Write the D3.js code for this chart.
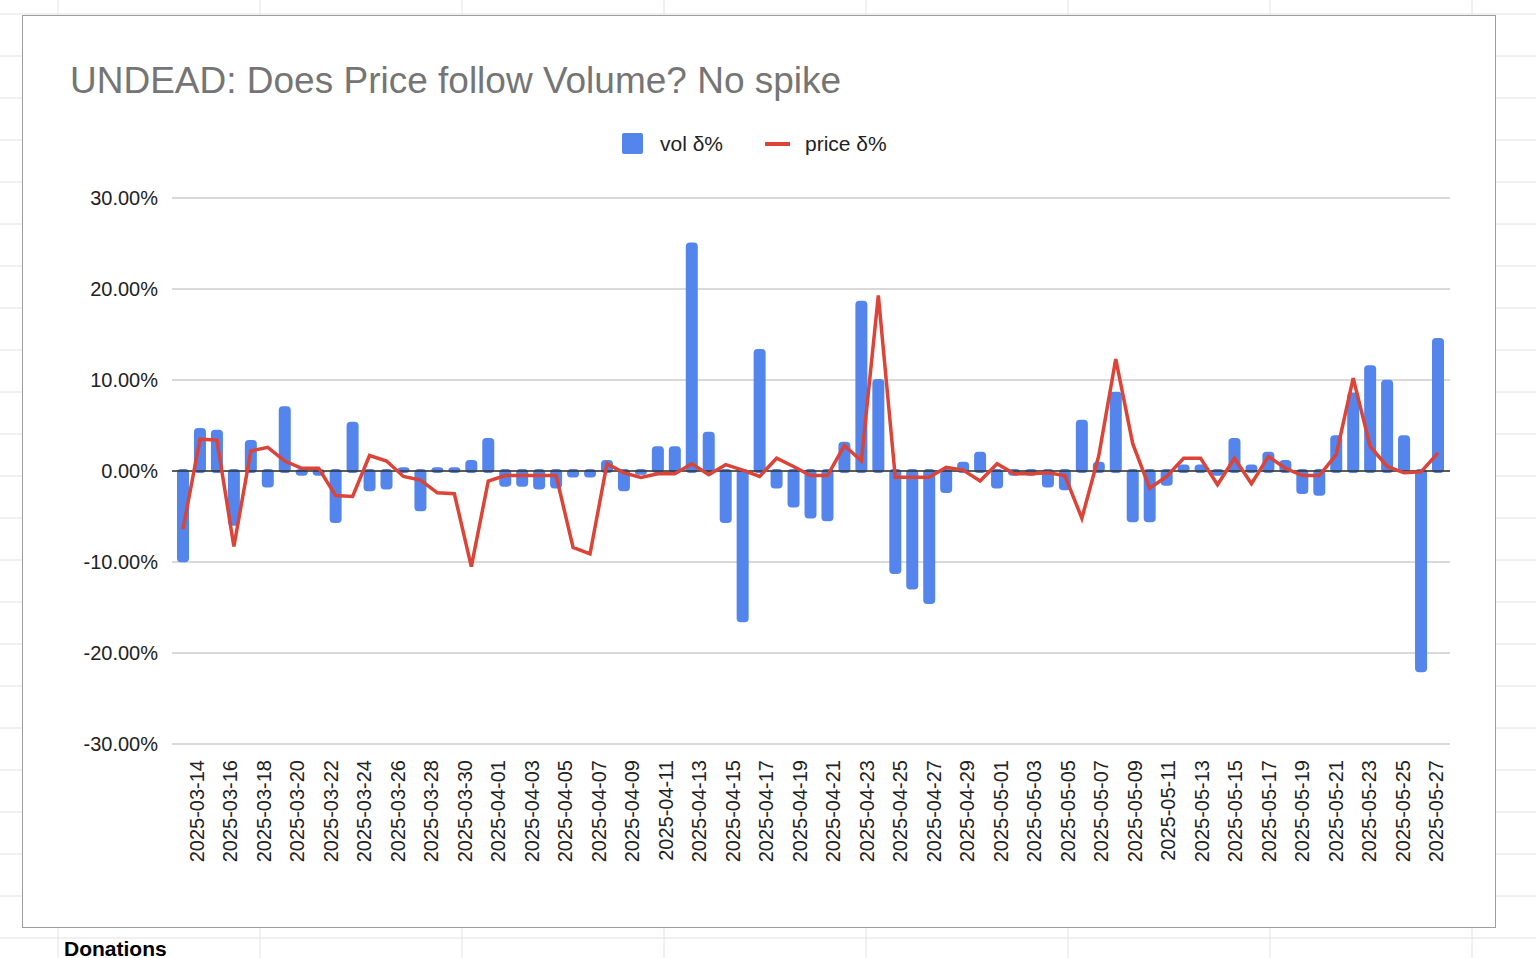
<!DOCTYPE html>
<html><head><meta charset="utf-8">
<script src="https://cdn.jsdelivr.net/npm/d3@7"></script>
<style>body{margin:0;background:#fff;font-family:"Liberation Sans",Arial,sans-serif}</style>
</head><body>
<script>
const volPct = [-9.8,4.5,4.3,-5.8,3.2,-1.6,6.9,-0.3,-0.3,-5.5,5.2,-2.0,-1.8,0.2,-4.2,0.2,0.2,1.0,3.4,-1.5,-1.5,-1.8,-1.7,-0.5,-0.5,1.0,
  -2.0,-0.2,2.5,2.5,24.9,4.1,-5.5,-16.4,13.2,-1.7,-3.8,-5.0,-5.3,3.0,18.5,9.9,-11.1,-12.8,-14.4,-2.2,0.8,1.9,-1.7,-0.3,-0.3,
  -1.6,-1.9,5.4,0.8,8.5,-5.4,-5.4,-1.4,0.5,0.5,-0.3,3.4,0.5,1.9,1.0,-2.3,-2.5,3.7,8.4,11.4,9.8,3.7,-21.9,14.4];
const pricePct = [-6.4,3.5,3.4,-8.3,2.2,2.6,1.1,0.3,0.3,-2.7,-2.8,1.7,1.1,-0.6,-1.0,-2.4,-2.5,-10.5,-1.1,-0.5,-0.5,-0.5,-0.5,-8.4,-9.1,0.8,
  -0.2,-0.7,-0.3,-0.3,0.8,-0.4,0.7,0.1,-0.6,1.4,0.5,-0.5,-0.5,2.8,1.1,19.3,-0.7,-0.7,-0.7,0.4,0.1,-1.1,0.8,-0.3,-0.3,
  -0.2,-0.5,-5.2,1.7,12.3,3.0,-1.9,-0.6,1.4,1.4,-1.5,1.4,-1.4,1.6,0.3,-0.5,-0.5,1.8,10.2,2.7,0.5,-0.2,-0.1,2.0];
const start = new Date(2025, 2, 14);
const dates = volPct.map((_, i) => d3.timeFormat("%Y-%m-%d")(d3.timeDay.offset(start, i)));
const yTicks = [-30, -20, -10, 0, 10, 20, 30];

const W = 1536, H = 958;
const svg = d3.select("body").append("svg").attr("width", W).attr("height", H);

// spreadsheet grid behind
const g0 = svg.append("g").attr("stroke", "#e2e2e2");
[58, 260, 462, 664, 866, 1068, 1270, 1472].forEach(x => g0.append("line").attr("x1", x).attr("x2", x).attr("y1", 0).attr("y2", H));
d3.range(0, H, 42).forEach(y => g0.append("line").attr("x1", 0).attr("x2", W).attr("y1", y + 14).attr("y2", y + 14));
svg.append("rect").attr("x", 22.5).attr("y", 15.5).attr("width", 1473).attr("height", 912)
  .attr("fill", "#fff").attr("stroke", "#9e9e9e");
svg.append("text").attr("x", 64).attr("y", 956).attr("font-size", 21).attr("font-weight", "bold").text("Donations");

svg.append("text").attr("x", 70).attr("y", 93).attr("font-size", 37).attr("fill", "#757575")
  .text("UNDEAD: Does Price follow Volume? No spike");

// legend
svg.append("rect").attr("x", 622).attr("y", 133).attr("width", 21).attr("height", 21).attr("rx", 2).attr("fill", "#5385ec");
svg.append("text").attr("x", 660).attr("y", 151).attr("font-size", 21).attr("fill", "#222").text("vol δ%");
svg.append("line").attr("x1", 765).attr("x2", 790).attr("y1", 144).attr("y2", 144).attr("stroke", "#db4437").attr("stroke-width", 4);
svg.append("text").attr("x", 805).attr("y", 151).attr("font-size", 21).attr("fill", "#222").text("price δ%");

const x = d3.scaleLinear().domain([0, dates.length - 1]).range([183, 1438]);
const xl = d3.scaleLinear().domain([0, dates.length - 1]).range([197, 1436]);
const y = d3.scaleLinear().domain([-30, 30]).range([744, 198]);

svg.append("g").selectAll("line").data(yTicks).join("line")
  .attr("x1", 172).attr("x2", 1450).attr("y1", d => y(d)).attr("y2", d => y(d))
  .attr("stroke", "#cccccc").attr("stroke-width", 1.3);
svg.append("g").selectAll("text").data(yTicks).join("text")
  .attr("x", 158).attr("y", d => y(d) + 7).attr("text-anchor", "end").attr("font-size", 20).attr("fill", "#222")
  .text(d => d.toFixed(2) + "%");

svg.append("g").selectAll("rect").data(volPct).join("rect")
  .attr("x", (d, i) => x(i) - 6).attr("width", 12)
  .attr("y", d => y(Math.max(0, d)) - 2).attr("height", d => Math.abs(y(d) - y(0)) + 4)
  .attr("rx", 4).attr("fill", "#5385ec");

svg.append("line").attr("x1", 172).attr("x2", 1450).attr("y1", y(0)).attr("y2", y(0)).attr("stroke", "#333").attr("stroke-width", 1.5);

svg.append("path").datum(pricePct)
  .attr("d", d3.line().x((d, i) => x(i)).y(d => y(d)))
  .attr("fill", "none").attr("stroke", "#db4437").attr("stroke-width", 3.5).attr("stroke-linejoin", "miter");

svg.append("g").selectAll("text").data(dates.filter((d, i) => i % 2 === 0)).join("text")
  .attr("transform", (d, i) => `translate(${xl(i * 2)},760) rotate(-90)`)
  .attr("text-anchor", "end").attr("dy", "0.35em").attr("font-size", 20).attr("fill", "#222").text(d => d);
</script>
</body></html>
